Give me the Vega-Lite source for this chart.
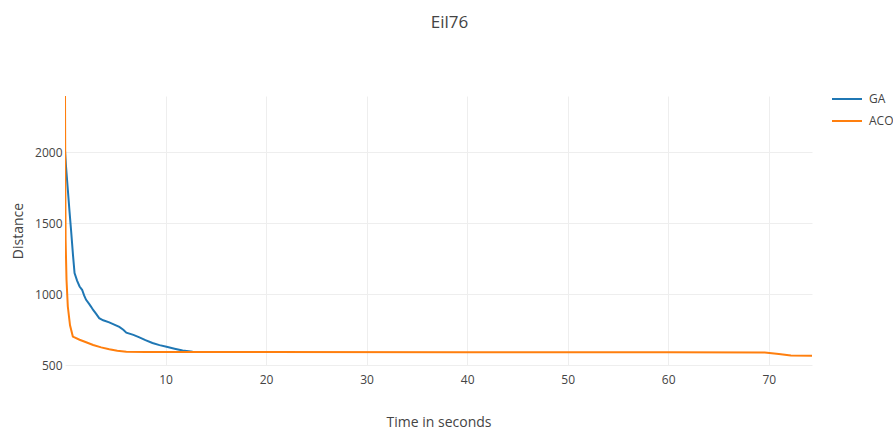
{
  "$schema": "https://vega.github.io/schema/vega-lite/v6.json",
  "autosize": {"type": "none"},
  "padding": {"left": 65, "top": 96, "right": 81, "bottom": 65},
  "width": 747,
  "height": 269,
  "background": "white",
  "title": {"text": "Eil76", "fontSize": 17, "font": "Open Sans", "fontWeight": "normal", "color": "#444", "anchor": "middle", "frame": "group", "offset": 54, "dx": 11, "dy": 3},
  "config": {
    "view": {"stroke": null},
    "font": "Open Sans",
    "axis": {"labelFont": "Open Sans", "titleFont": "Open Sans", "labelColor": "#444", "titleColor": "#444", "labelFontSize": 12, "titleFontSize": 14, "titleFontWeight": "normal", "gridColor": "#eee", "gridWidth": 1, "domain": false, "ticks": false}
  },
  "data": {"values": [
    {"algo": "GA", "t": 0.0, "d": 2010},
    {"algo": "GA", "t": 0.1, "d": 1900},
    {"algo": "GA", "t": 0.28, "d": 1736},
    {"algo": "GA", "t": 0.45, "d": 1580},
    {"algo": "GA", "t": 0.6, "d": 1453},
    {"algo": "GA", "t": 0.8, "d": 1270},
    {"algo": "GA", "t": 0.95, "d": 1148},
    {"algo": "GA", "t": 1.2, "d": 1095},
    {"algo": "GA", "t": 1.45, "d": 1053},
    {"algo": "GA", "t": 1.7, "d": 1030},
    {"algo": "GA", "t": 1.9, "d": 990},
    {"algo": "GA", "t": 2.1, "d": 959},
    {"algo": "GA", "t": 2.4, "d": 930},
    {"algo": "GA", "t": 2.6, "d": 910},
    {"algo": "GA", "t": 2.8, "d": 888},
    {"algo": "GA", "t": 3.1, "d": 860},
    {"algo": "GA", "t": 3.4, "d": 830},
    {"algo": "GA", "t": 3.8, "d": 815},
    {"algo": "GA", "t": 4.4, "d": 800},
    {"algo": "GA", "t": 4.9, "d": 785},
    {"algo": "GA", "t": 5.4, "d": 768},
    {"algo": "GA", "t": 5.8, "d": 748},
    {"algo": "GA", "t": 6.1, "d": 728},
    {"algo": "GA", "t": 6.8, "d": 712},
    {"algo": "GA", "t": 7.4, "d": 695},
    {"algo": "GA", "t": 8.0, "d": 675},
    {"algo": "GA", "t": 8.7, "d": 655},
    {"algo": "GA", "t": 9.4, "d": 640},
    {"algo": "GA", "t": 10.1, "d": 628},
    {"algo": "GA", "t": 10.9, "d": 615},
    {"algo": "GA", "t": 11.7, "d": 602},
    {"algo": "GA", "t": 12.7, "d": 594},
    {"algo": "GA", "t": 13.5, "d": 592},
    {"algo": "ACO", "t": 0.0, "d": 2395},
    {"algo": "ACO", "t": 0.03, "d": 1800},
    {"algo": "ACO", "t": 0.06, "d": 1383},
    {"algo": "ACO", "t": 0.15, "d": 1100},
    {"algo": "ACO", "t": 0.28, "d": 912},
    {"algo": "ACO", "t": 0.5, "d": 780},
    {"algo": "ACO", "t": 0.78, "d": 700},
    {"algo": "ACO", "t": 1.45, "d": 678},
    {"algo": "ACO", "t": 2.1, "d": 660},
    {"algo": "ACO", "t": 2.8, "d": 641},
    {"algo": "ACO", "t": 3.6, "d": 624},
    {"algo": "ACO", "t": 4.4, "d": 611},
    {"algo": "ACO", "t": 5.2, "d": 600},
    {"algo": "ACO", "t": 6.1, "d": 594},
    {"algo": "ACO", "t": 8.0, "d": 592},
    {"algo": "ACO", "t": 20.0, "d": 591},
    {"algo": "ACO", "t": 40.0, "d": 590},
    {"algo": "ACO", "t": 60.0, "d": 589},
    {"algo": "ACO", "t": 69.6, "d": 588},
    {"algo": "ACO", "t": 71.0, "d": 578},
    {"algo": "ACO", "t": 72.2, "d": 567},
    {"algo": "ACO", "t": 74.3, "d": 565}
  ]},
  "mark": {"type": "line", "strokeWidth": 2, "clip": true},
  "encoding": {
    "x": {"field": "t", "type": "quantitative", "title": "Time in seconds",
      "scale": {"domain": [0, 74.3], "nice": false, "zero": false},
      "axis": {"values": [10, 20, 30, 40, 50, 60, 70], "labelPadding": 9, "titlePadding": 30, "gridColor": "#eee", "labelFlush": false}},
    "y": {"field": "d", "type": "quantitative", "title": "Distance",
      "scale": {"domain": [500, 2395], "nice": false, "zero": false},
      "axis": {"values": [500, 1000, 1500, 2000], "format": "d", "labelPadding": 3, "titlePadding": 9, "labelFlush": false}},
    "color": {"field": "algo", "type": "nominal",
      "scale": {"domain": ["GA", "ACO"], "range": ["#1f77b4", "#ff7f0e"]},
      "legend": {"title": null, "orient": "none", "legendX": 766, "legendY": -13, "symbolType": "stroke", "symbolSize": 900, "symbolStrokeWidth": 2, "labelFont": "Open Sans", "labelFontSize": 12, "labelColor": "#444", "rowPadding": -12, "labelOffset": 6, "padding": 0}},
    "order": {"field": "t", "type": "quantitative"}
  }
}
